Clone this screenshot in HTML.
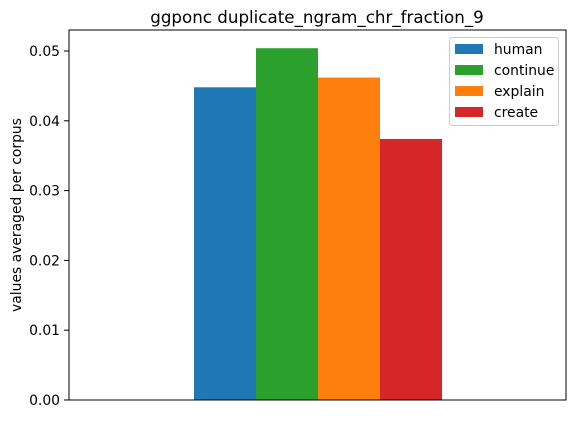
<!DOCTYPE html>
<html><head><meta charset="utf-8"><style>
body{margin:0;background:#fff;}
svg text{font-family:"DejaVu Sans","Liberation Sans",sans-serif;}
</style></head><body>
<svg width="576" height="418" xmlns="http://www.w3.org/2000/svg">
<g id="chart"></g>
</svg>
<script>
const categories=["human","continue","explain","create"];
const values=[0.0448,0.0504,0.0462,0.0374];
const colors=["#1f77b4","#2ca02c","#ff7f0e","#d62728"];
const yTicks=[0,0.01,0.02,0.03,0.04,0.05];
const yTickLabels=["0.00","0.01","0.02","0.03","0.04","0.05"];
const L=69,R=566,T=30,B=400;
const y=v=>B-v*6980;
const ns="http://www.w3.org/2000/svg";
const g=document.getElementById('chart');
function mk(t,a,txt){const e=document.createElementNS(ns,t);for(const k in a)e.setAttribute(k,a[k]);if(txt!==undefined)e.textContent=txt;g.appendChild(e);return e;}
const bw=62,x0=194;
categories.forEach((c,i)=>{
 const r=mk('rect',{x:x0+i*bw,y:y(values[i]),width:bw,height:B-y(values[i]),fill:colors[i]});
 
 
});
const ax=mk('rect',{x:L,y:T,width:R-L,height:B-T,fill:'none',stroke:'#000','stroke-width':1});


yTicks.forEach((v,i)=>{
 mk('line',{x1:L-5,x2:L,y1:y(v),y2:y(v),stroke:'#000','stroke-width':1});
 const t=mk('text',{x:L-9,y:y(v)+5,'text-anchor':'end','font-size':13.9},yTickLabels[i]);
 
 
});
const yt=mk('text',{x:21,y:215,'text-anchor':'middle','font-size':13.9,transform:'rotate(-90 21 215)'},'values averaged per corpus');


const ti=mk('text',{x:317,y:23,'text-anchor':'middle','font-size':16.7},'ggponc duplicate_ngram_chr_fraction_9');


const lg=mk('rect',{x:449.5,y:37.5,width:109,height:88,fill:'#fff',stroke:'#ccc',rx:3});


categories.forEach((c,i)=>{
 const yy=44+i*21;
 mk('rect',{x:455,y:yy,width:28,height:10,fill:colors[i]});
 const t=mk('text',{x:494,y:yy+10,'font-size':13.9},c);
 
 
});
</script>
</body></html>
